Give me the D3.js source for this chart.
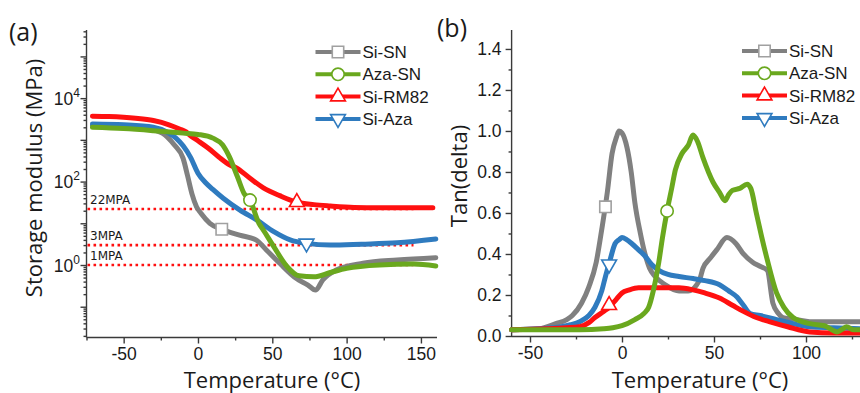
<!DOCTYPE html>
<html>
<head>
<meta charset="utf-8">
<script src="https://cdn.jsdelivr.net/npm/d3@7"></script>
<style>
  body { margin: 0; background: #fff; }
  text { font-family: "Liberation Sans", Arial, sans-serif; fill: #1a1a1a; }
  .title { font-family: "Open Sans", "Liberation Sans", sans-serif; }
  .axis path, .axis line { stroke: #3a3a3a; stroke-width: 1.4; }
</style>
</head>
<body>
<script>
// ---- data: panel (a) storage modulus, MPa vs temperature (°C)
var siSN_T   = [-71, -50, -35, -24, -16, -10, -7, -4, -1, 2, 8, 16, 28, 39, 46, 55, 66, 74, 79, 84, 93, 111, 134, 160];
var siSN_E   = [2190, 2140, 1900, 1450, 760, 360, 138, 50, 25, 17.4, 10, 7.2, 5.2, 4.0, 2.3, 1.1, 0.48, 0.33, 0.25, 0.44, 0.76, 1.1, 1.32, 1.5];
var azaSN_T  = [-71, -50, -30, -10, 0, 10, 16.5, 21, 26.5, 31, 35, 41, 44, 51, 60, 68, 78, 89, 100, 122, 145, 160];
var azaSN_E  = [2000, 1860, 1660, 1450, 1350, 1100, 760, 400, 132, 52, 36, 10, 6.9, 2.75, 0.91, 0.55, 0.52, 0.66, 0.83, 1.0, 1.05, 0.95];
var siRM_T   = [-71, -60, -42, -30, -19.5, -12, -8, -5, 0, 7, 14, 21.5, 25.6, 35, 44, 55, 66.5, 78, 89, 105, 122, 140, 158];
var siRM_E   = [3700, 3630, 3300, 2900, 2300, 1800, 1550, 1260, 950, 630, 390, 250, 215, 120, 71, 46, 32, 28, 26, 24, 23.5, 23.5, 23.5];
var siAza_T  = [-71, -50, -30, -20, -15, -10, -5, 0, 5, 10, 17, 28, 40, 51, 62, 73, 89, 110, 134, 160];
var siAza_E  = [2400, 2290, 2000, 1480, 1120, 720, 380, 158, 95, 65, 40, 21, 11.7, 6.3, 4.0, 3.3, 3.0, 3.15, 3.4, 4.2];

// reference levels (MPa)
var refLevels = [22, 3, 1];
var refLabels = ["22MPA", "3MPA", "1MPA"];

// ---- data: panel (b) tan(delta) vs temperature (°C)
var siSN_bT  = [-60, -45, -36, -30, -27, -22, -18, -14, -11, -8, -5.4, -3, -1.6, 0, 2.7, 5, 7, 10, 12.5, 15, 18, 23.5, 31, 36, 42, 44, 48, 51.5, 57, 62, 66, 71, 75, 79, 82, 85, 87.5, 95, 102, 115, 130];
var siSN_tan = [0.03, 0.035, 0.06, 0.08, 0.10, 0.16, 0.24, 0.36, 0.52, 0.70, 0.89, 0.97, 1.00, 0.99, 0.92, 0.80, 0.65, 0.50, 0.40, 0.33, 0.29, 0.25, 0.22, 0.22, 0.27, 0.33, 0.38, 0.42, 0.48, 0.45, 0.40, 0.36, 0.34, 0.32, 0.16, 0.11, 0.09, 0.08, 0.07, 0.07, 0.07];
var azaSN_bT = [-60, -40, -23, -10, -5, 0, 7, 12, 14.5, 17, 20, 22, 24.5, 27, 29, 32.6, 36, 38.6, 41, 44, 49.5, 53, 56, 58, 60, 64, 68, 70, 73, 76, 79, 84, 88, 93, 102, 110, 117, 120, 122, 126, 130];
var azaSN_tan = [0.03, 0.03, 0.03, 0.035, 0.04, 0.05, 0.08, 0.11, 0.14, 0.22, 0.36, 0.48, 0.61, 0.72, 0.81, 0.89, 0.93, 0.98, 0.95, 0.87, 0.75, 0.70, 0.66, 0.69, 0.71, 0.72, 0.74, 0.72, 0.60, 0.48, 0.37, 0.21, 0.14, 0.09, 0.06, 0.05, 0.02, 0.035, 0.045, 0.03, 0.03];
var siRM_bT  = [-60, -40, -30, -23, -18, -14.7, -10, -7, -3, 0, 4, 9, 15, 31, 38.6, 45, 53, 60, 66, 73, 80, 90, 102, 115, 130];
var siRM_tan = [0.03, 0.035, 0.04, 0.045, 0.065, 0.09, 0.12, 0.14, 0.18, 0.21, 0.225, 0.235, 0.235, 0.235, 0.225, 0.21, 0.185, 0.15, 0.12, 0.09, 0.07, 0.045, 0.02, 0.015, 0.015];
var siAza_bT = [-60, -45, -33, -28, -23, -18, -14.7, -11, -9, -6.5, -3.8, -1.5, 0, 2.5, 5.4, 9, 12.5, 16, 20, 25, 31, 38.6, 45, 53, 58, 62.5, 66, 69.6, 75, 84, 93, 102, 115, 130];
var siAza_tan = [0.03, 0.035, 0.045, 0.055, 0.07, 0.10, 0.14, 0.22, 0.29, 0.37, 0.45, 0.47, 0.48, 0.47, 0.45, 0.42, 0.39, 0.35, 0.32, 0.30, 0.29, 0.28, 0.27, 0.25, 0.22, 0.19, 0.15, 0.11, 0.10, 0.08, 0.06, 0.045, 0.04, 0.035];

// series meta (legend order)
var names   = ["Si-SN", "Aza-SN", "Si-RM82", "Si-Aza"];
var colors  = ["#808080", "#6aa81e", "#ff1010", "#2f7bbf"];
var mColors = ["#a0a0a0", "#6aa81e", "#ff1010", "#2f7bbf"];
var symbols = ["square", "circle", "triangle", "triangleDown"];
// marker positions on curves: [T, value]
var markersA = [[16, 7.2], [35, 36], [66.5, 32], [73, 3.3]];
var markersB = [[-9, 0.63], [24.5, 0.61], [-7, 0.15], [-7, 0.35]];

var drawOrder = [0, 3, 2, 1];
var tickFont = 17.5;

var svg = d3.select("body").append("svg")
    .attr("width", 860)
    .attr("height", 393);

function zip(xs, ys) { return xs.map(function(x, i) { return [x, ys[i]]; }); }

var seriesA = [zip(siSN_T, siSN_E), zip(azaSN_T, azaSN_E), zip(siRM_T, siRM_E), zip(siAza_T, siAza_E)];
var seriesB = [zip(siSN_bT, siSN_tan), zip(azaSN_bT, azaSN_tan), zip(siRM_bT, siRM_tan), zip(siAza_bT, siAza_tan)];

function marker(g, i, x, y) {
    var s = symbols[i];
    var type = s === "square" ? d3.symbolSquare : s === "circle" ? d3.symbolCircle : d3.symbolTriangle;
    var size = s === "square" ? 130 : s === "circle" ? 120 : 95;
    g.append("path")
        .attr("d", d3.symbol().type(type).size(size)())
        .attr("transform", "translate(" + x + "," + y + ")" + (s === "triangleDown" ? " rotate(180)" : ""))
        .attr("fill", "#fff")
        .attr("stroke", mColors[i])
        .attr("stroke-width", 1.6);
}

function legend(x0, y0) {
    var g = svg.append("g");
    names.forEach(function(n, i) {
        var y = y0 + i * 22.3;
        g.append("line")
            .attr("x1", x0).attr("x2", x0 + 45)
            .attr("y1", y).attr("y2", y)
            .attr("stroke", colors[i]).attr("stroke-width", 4);
        marker(g, i, x0 + 22.5, y);
        g.append("text")
            .attr("x", x0 + 47).attr("y", y + 6)
            .attr("font-size", 17)
            .text(n);
    });
}

function styleTicks(g) {
    g.select(".domain").remove();
    g.selectAll("text")
        .attr("font-size", tickFont)
        .style("font-family", "Liberation Sans, Arial, sans-serif")
        .attr("fill", "#1a1a1a");
}

// ================= panel (a) =================
var xA = d3.scaleLinear().domain([-75, 160]).range([86.5, 435.8]);
var yA = d3.scaleLog().domain([0.0188, 4.3e5]).range([337, 30]);

// minor + major log ticks
var logMajor = [0.1, 1, 10, 100, 1000, 1e4, 1e5];
var logMinor = [];
[0.01, 0.1, 1, 10, 100, 1000, 1e4, 1e5].forEach(function(d) {
    for (var k = 2; k <= 9; k++) {
        var v = d * k;
        if (v > 0.0188 && v < 4.3e5) logMinor.push(v);
    }
});

svg.append("g").attr("class", "axis")
    .attr("transform", "translate(86.5,0)")
    .call(d3.axisLeft(yA).tickValues(logMinor).tickSize(3).tickFormat(""))
    .select(".domain").attr("d", "M0,30V337.5");
svg.append("g").attr("class", "axis")
    .attr("transform", "translate(86.5,0)")
    .call(d3.axisLeft(yA).tickValues(logMajor).tickSize(6).tickFormat(""))
    .select(".domain").remove();

[1, 100, 1e4].forEach(function(v) {
    var t = svg.append("text")
        .attr("x", 80).attr("y", yA(v) + 6.5)
        .attr("text-anchor", "end")
        .attr("font-size", tickFont);
    t.append("tspan").text("10");
    t.append("tspan").attr("dy", -8).attr("font-size", 12).text(Math.round(Math.log10(v)));
});

svg.append("g").attr("class", "axis")
    .attr("transform", "translate(0,337.5)")
    .call(d3.axisBottom(xA).tickValues([-75, -25, 25, 75, 125]).tickSize(3).tickFormat(""))
    .select(".domain").attr("d", "M86.5,0H437");
svg.append("g").attr("class", "axis")
    .attr("transform", "translate(0,337.5)")
    .call(d3.axisBottom(xA).tickValues([-50, 0, 50, 100, 150]).tickSize(6).tickPadding(4)
        .tickFormat(function(d) { return String(d); }))
    .call(styleTicks);

// reference dotted lines
refLevels.forEach(function(v, i) {
    svg.append("line")
        .attr("x1", xA(-75) + 1).attr("x2", xA(145))
        .attr("y1", yA(v)).attr("y2", yA(v))
        .attr("stroke", "#ff1010")
        .attr("stroke-width", 2.6)
        .attr("stroke-dasharray", "2.6,3.4");
    svg.append("text")
        .attr("x", 90).attr("y", yA(v) - 5)
        .attr("font-size", 12)
        .style("font-family", "DejaVu Sans, sans-serif")
        .attr("fill", "#333")
        .text(refLabels[i]);
});

var lineA = d3.line()
    .x(function(d) { return xA(d[0]); })
    .y(function(d) { return yA(d[1]); })
    .curve(d3.curveMonotoneX);

drawOrder.forEach(function(i) {
    svg.append("path")
        .datum(seriesA[i])
        .attr("d", lineA)
        .attr("fill", "none")
        .attr("stroke", colors[i])
        .attr("stroke-width", 5)
        .attr("stroke-linejoin", "round")
        .attr("stroke-linecap", "round");
});
var gmA = svg.append("g");
markersA.forEach(function(m, i) { marker(gmA, i, xA(m[0]), yA(m[1])); });

legend(315.5, 52);

svg.append("text").attr("class", "title")
    .attr("x", 272).attr("y", 388)
    .attr("text-anchor", "middle")
    .attr("font-size", 22)
    .text("Temperature (°C)");
svg.append("text").attr("class", "title")
    .attr("transform", "translate(42,178) rotate(-90)")
    .attr("text-anchor", "middle")
    .attr("font-size", 22)
    .text("Storage modulus (MPa)");
svg.append("text").attr("class", "title")
    .attr("x", 9).attr("y", 41)
    .attr("font-size", 25)
    .text("(a)");

// ================= panel (b) =================
var xB = d3.scaleLinear().domain([-60, 130]).range([511.6, 861.2]);
var yB = d3.scaleLinear().domain([0, 1.49]).range([336, 30.5]);

svg.append("g").attr("class", "axis")
    .attr("transform", "translate(511.6,0)")
    .call(d3.axisLeft(yB).tickValues(d3.range(1, 15, 2).map(function(k) { return k / 10; })).tickSize(3).tickFormat(""))
    .select(".domain").attr("d", "M0,30V337");
svg.append("g").attr("class", "axis")
    .attr("transform", "translate(511.6,0)")
    .call(d3.axisLeft(yB).tickValues([0, 0.2, 0.4, 0.6, 0.8, 1.0, 1.2, 1.4]).tickSize(6).tickPadding(4).tickFormat(d3.format(".1f")))
    .call(styleTicks);

svg.append("g").attr("class", "axis")
    .attr("transform", "translate(0,336.5)")
    .call(d3.axisBottom(xB).tickValues([-25, 25, 75, 125]).tickSize(3).tickFormat(""))
    .select(".domain").attr("d", "M511.6,0H860");
svg.append("g").attr("class", "axis")
    .attr("transform", "translate(0,336.5)")
    .call(d3.axisBottom(xB).tickValues([-50, 0, 50, 100]).tickSize(6).tickPadding(4)
        .tickFormat(function(d) { return String(d); }))
    .call(styleTicks);

var lineB = d3.line()
    .x(function(d) { return xB(d[0]); })
    .y(function(d) { return yB(d[1]); })
    .curve(d3.curveMonotoneX);

drawOrder.forEach(function(i) {
    svg.append("path")
        .datum(seriesB[i])
        .attr("d", lineB)
        .attr("fill", "none")
        .attr("stroke", colors[i])
        .attr("stroke-width", 5)
        .attr("stroke-linejoin", "round")
        .attr("stroke-linecap", "round");
});
var gmB = svg.append("g");
markersB.forEach(function(m, i) { marker(gmB, i, xB(m[0]), yB(m[1])); });

legend(742, 51);

svg.append("text").attr("class", "title")
    .attr("x", 700).attr("y", 388)
    .attr("text-anchor", "middle")
    .attr("font-size", 22)
    .text("Temperature (°C)");
svg.append("text").attr("class", "title")
    .attr("transform", "translate(467,176) rotate(-90)")
    .attr("text-anchor", "middle")
    .attr("font-size", 22)
    .text("Tan(delta)");
svg.append("text").attr("class", "title")
    .attr("x", 437).attr("y", 37)
    .attr("font-size", 25)
    .text("(b)");
</script>
</body>
</html>
